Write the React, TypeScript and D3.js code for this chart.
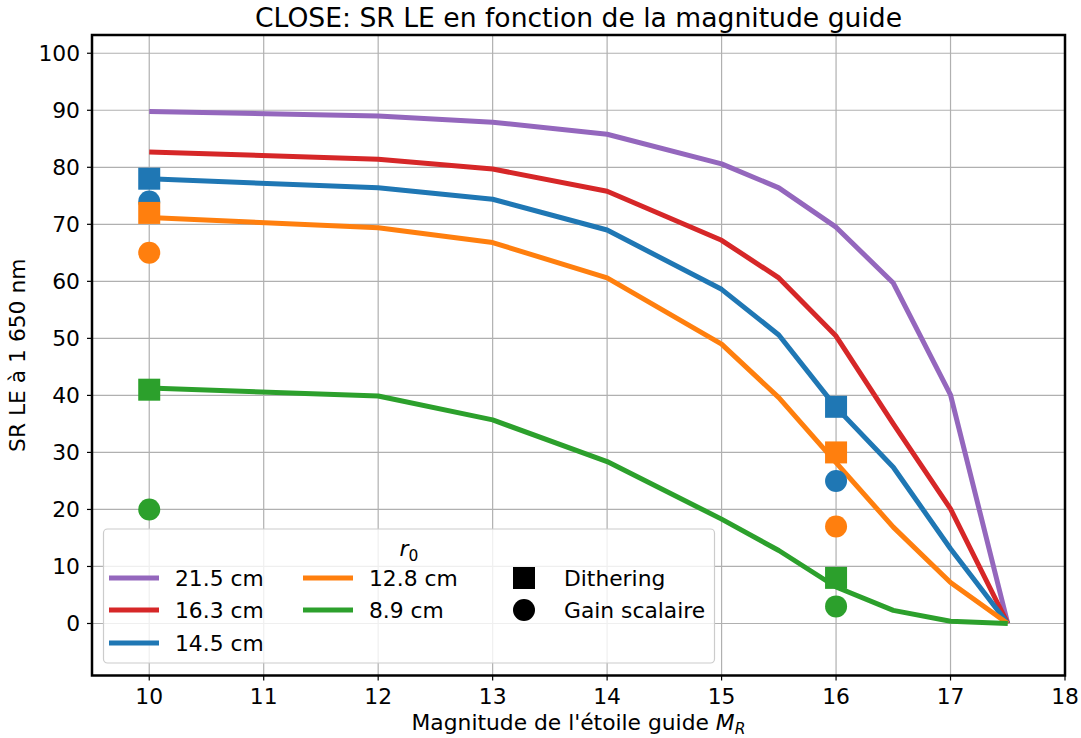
import React from "react";
import * as d3 from "d3";

const magnitudes = [10, 12, 13, 14, 15, 15.5, 16, 16.5, 17, 17.5];
const r0Labels = ["21.5 cm", "16.3 cm", "14.5 cm", "12.8 cm", "8.9 cm"];
const colors = ["#9467bd", "#d62728", "#1f77b4", "#ff7f0e", "#2ca02c"];
const sr215 = [89.8, 89.0, 87.9, 85.8, 80.6, 76.4, 69.5, 59.7, 40.1, 0];
const sr163 = [82.7, 81.4, 79.7, 75.8, 67.2, 60.6, 50.4, 35.0, 20.1, 0];
const sr145 = [78.0, 76.4, 74.4, 69.0, 58.6, 50.6, 37.9, 27.4, 13.1, 0];
const sr128 = [71.2, 69.4, 66.8, 60.6, 49.0, 39.6, 28.2, 16.9, 7.2, 0];
const sr89 = [41.3, 39.9, 35.7, 28.4, 18.3, 12.8, 6.4, 2.3, 0.4, 0];
const seriesValues = [sr215, sr163, sr145, sr128, sr89];

// Measured points at magnitudes 10 and 16, for colours blue, orange, green
const pointMags = [10, 16];
const ditheringBlue = [78.0, 38.0];
const ditheringOrange = [72.0, 30.0];
const ditheringGreen = [41.0, 8.0];
const gainBlue = [74.0, 25.0];
const gainOrange = [65.0, 17.0];
const gainGreen = [20.0, 3.0];
const pointColors = ["#1f77b4", "#ff7f0e", "#2ca02c"];
const ditheringSets = [ditheringBlue, ditheringOrange, ditheringGreen];
const gainSets = [gainBlue, gainOrange, gainGreen];

const xTicks = [10, 11, 12, 13, 14, 15, 16, 17, 18];
const yTicks = [0, 10, 20, 30, 40, 50, 60, 70, 80, 90, 100];

const W = 1081, H = 738;
const L = 92, R = 1065, T = 35, B = 675.5;
const FONT = "DejaVu Sans, sans-serif";
const FS = 21.8;

export default function App() {
  const x = d3.scaleLinear().domain([9.5, 18]).range([L, R]);
  const y = d3.scaleLinear().domain([-9.12, 103.2]).range([B, T]);
  const line = d3.line<number>().x((_, i) => x(magnitudes[i])).y((v) => y(v));
  const sq = 22;
  const legX = 103.5, legY = 529, legW = 611, legH = 134;
  const rows = [578, 610, 643];
  return (
    <div style={{ position: "fixed", left: 0, top: 0, width: W, height: H, overflow: "hidden" }}>
      <svg width={W} height={H} style={{ display: "block", background: "#fff" }} fontFamily={FONT}>
        <text x={(L + R) / 2} y={27} textAnchor="middle" fontSize={26.6} fill="#000">
          CLOSE: SR LE en fonction de la magnitude guide
        </text>
        <defs>
          <clipPath id="plot">
            <rect x={L} y={T} width={R - L} height={B - T} />
          </clipPath>
        </defs>
        {xTicks.map((t) => (
          <line key={"gx" + t} x1={x(t)} x2={x(t)} y1={T} y2={B} stroke="#b0b0b0" strokeWidth={1.2} />
        ))}
        {yTicks.map((t) => (
          <line key={"gy" + t} x1={L} x2={R} y1={y(t)} y2={y(t)} stroke="#b0b0b0" strokeWidth={1.2} />
        ))}
        <g clipPath="url(#plot)">
          {seriesValues.map((vals, i) => (
            <path key={"l" + i} d={line(vals) || ""} fill="none" stroke={colors[i]} strokeWidth={5} strokeLinejoin="round" />
          ))}
          {pointColors.map((c, i) => (
            <g key={"p" + i}>
              {pointMags.map((m, j) => (
                <rect key={"s" + j} x={x(m) - sq / 2} y={y(ditheringSets[i][j]) - sq / 2} width={sq} height={sq} fill={c} />
              ))}
              {pointMags.map((m, j) => (
                <circle key={"c" + j} cx={x(m)} cy={y(gainSets[i][j])} r={11} fill={c} />
              ))}
            </g>
          ))}
        </g>
        {/* Legend */}
        <rect x={legX} y={legY} width={legW} height={legH} rx={4} fill="#fff" fillOpacity={0.8} stroke="#cccccc" strokeWidth={1.2} />
        <text x={legX + legW / 2} y={556} textAnchor="middle" fontSize={FS} fontStyle="italic">
          r<tspan fontStyle="normal" fontSize={15.5} dy={5}>0</tspan>
        </text>
        {r0Labels.map((lab, i) => {
          const col = i < 3 ? 0 : 1;
          const row = i < 3 ? i : i - 3;
          const lx = col === 0 ? 109 : 303;
          return (
            <g key={"lg" + i}>
              <line x1={lx} x2={lx + 50} y1={rows[row]} y2={rows[row]} stroke={colors[i]} strokeWidth={5} />
              <text x={lx + 66} y={rows[row] + 8} fontSize={FS}>{lab}</text>
            </g>
          );
        })}
        <rect x={524 - 11} y={rows[0] - 11} width={22} height={22} fill="#000" />
        <text x={564} y={rows[0] + 8} fontSize={FS}>Dithering</text>
        <circle cx={524} cy={rows[1]} r={11} fill="#000" />
        <text x={564} y={rows[1] + 8} fontSize={FS}>Gain scalaire</text>
        {/* Frame */}
        <rect x={L} y={T} width={R - L} height={B - T} fill="none" stroke="#000" strokeWidth={2.5} />
        {xTicks.map((t) => (
          <g key={"tx" + t}>
            <line x1={x(t)} x2={x(t)} y1={B} y2={B + 5} stroke="#000" strokeWidth={1.2} />
            <text x={x(t)} y={704} textAnchor="middle" fontSize={FS}>{t}</text>
          </g>
        ))}
        {yTicks.map((t) => (
          <g key={"ty" + t}>
            <line x1={L - 5} x2={L} y1={y(t)} y2={y(t)} stroke="#000" strokeWidth={1.2} />
            <text x={80} y={y(t) + 8} textAnchor="end" fontSize={FS}>{t}</text>
          </g>
        ))}
        <text x={(L + R) / 2} y={729.5} textAnchor="middle" fontSize={FS}>
          Magnitude de l'étoile guide <tspan fontStyle="italic">M</tspan>
          <tspan fontStyle="italic" fontSize={15.5} dy={4}>R</tspan>
        </text>
        <text transform={`translate(25, ${(T + B) / 2}) rotate(-90)`} textAnchor="middle" fontSize={FS}>
          SR LE à 1 650 nm
        </text>
      </svg>
    </div>
  );
}
